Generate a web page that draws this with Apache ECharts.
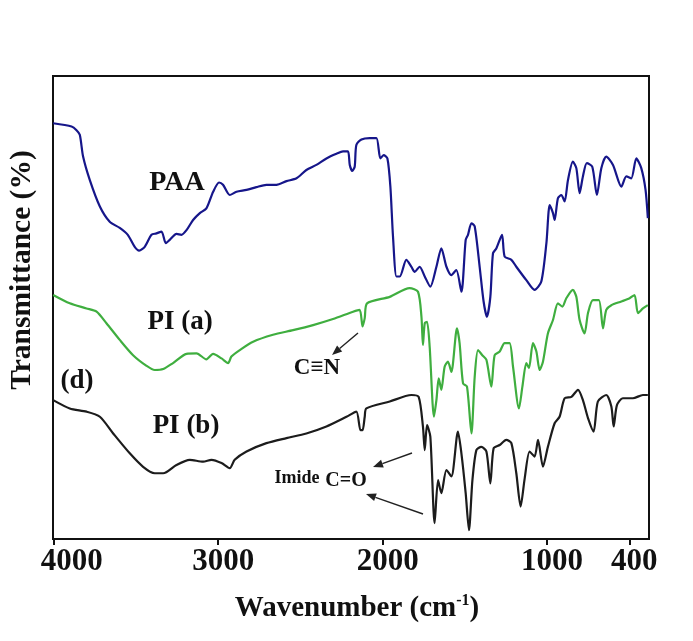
<!DOCTYPE html>
<html>
<head>
<meta charset="utf-8">
<script src="https://cdn.jsdelivr.net/npm/echarts@6/dist/echarts.min.js"></script>
<style>
  html, body { margin: 0; padding: 0; background: #ffffff; }
  #chart { width: 693px; height: 641px; }
</style>
</head>
<body>
<div id="chart"></div>
<script>
// FTIR spectra: [wavenumber (cm-1), transmittance (offset, %)]
const paaSpectrum = [
  [4004, 89.8], [3892, 89.1], [3862, 88.3], [3842, 87.3], [3822, 82.6], [3781, 77.5],
  [3720, 71.8], [3660, 68.5], [3599, 67.2], [3550, 65.7], [3508, 63.1], [3481, 62.3],
  [3447, 63.1], [3406, 65.7], [3376, 66.0], [3345, 66.4], [3319, 63.9], [3295, 64.6],
  [3254, 65.9], [3224, 65.7], [3193, 66.7], [3153, 68.9], [3112, 70.4], [3072, 71.4],
  [3031, 75.0], [2995, 77.0], [2971, 76.5], [2930, 74.3], [2889, 75.0], [2828, 75.4],
  [2768, 76.0], [2707, 76.5], [2646, 76.5], [2585, 77.3], [2524, 77.9], [2464, 79.7],
  [2403, 80.8], [2342, 82.2], [2281, 83.2], [2241, 83.7], [2211, 83.7], [2200, 80.8],
  [2185, 79.5], [2170, 80.4], [2160, 85.1], [2129, 86.3], [2079, 86.6], [2038, 86.6],
  [2014, 82.2], [1994, 82.9], [1971, 82.2], [1953, 76.1], [1937, 65.3], [1916, 56.7],
  [1896, 56.7], [1856, 60.3], [1825, 58.8], [1805, 57.7], [1775, 58.8], [1744, 56.7],
  [1710, 54.5], [1673, 58.8], [1643, 62.8], [1612, 58.8], [1582, 57.0], [1552, 58.1],
  [1521, 53.4], [1495, 64.6], [1481, 65.7], [1460, 68.2], [1440, 67.5], [1410, 58.8],
  [1386, 51.3], [1366, 48.0], [1345, 52.3], [1329, 61.7], [1308, 62.8], [1274, 65.7],
  [1258, 61.0], [1217, 60.3], [1187, 58.8], [1126, 55.9], [1076, 53.8], [1035, 55.6],
  [1004, 63.9], [984, 72.1], [964, 70.4], [954, 68.9], [934, 73.6], [913, 74.3],
  [893, 72.9], [873, 77.5], [843, 81.5], [822, 80.1], [802, 74.7], [782, 78.3],
  [758, 81.2], [725, 80.4], [697, 74.3], [670, 80.1], [640, 82.6], [599, 80.8],
  [548, 76.1], [518, 78.3], [488, 77.9], [457, 82.2], [427, 80.1], [401, 75.4], [387, 69.3]
];

const piASpectrum = [
  [4004, 52.7], [3903, 50.9], [3801, 49.8], [3740, 49.1], [3680, 46.6], [3599, 43.0],
  [3518, 39.7], [3436, 37.4], [3386, 36.5], [3335, 36.7], [3275, 38.0], [3193, 40.0],
  [3132, 40.1], [3072, 38.8], [3031, 40.0], [2980, 39.0], [2940, 38.0], [2920, 39.4],
  [2869, 40.8], [2788, 42.6], [2667, 44.1], [2545, 45.1], [2423, 46.2], [2302, 47.5],
  [2180, 49.1], [2140, 49.5], [2122, 45.9], [2109, 47.7], [2095, 50.9], [1957, 52.3],
  [1836, 54.2], [1785, 53.4], [1764, 48.0], [1755, 41.9], [1744, 46.6], [1730, 46.9],
  [1714, 41.5], [1688, 26.4], [1673, 30.0], [1659, 34.7], [1643, 32.2], [1623, 37.2],
  [1603, 38.3], [1582, 36.1], [1548, 45.5], [1532, 42.3], [1511, 33.6], [1487, 32.9],
  [1460, 22.8], [1440, 35.1], [1420, 40.8], [1394, 39.7], [1369, 38.7], [1339, 32.9],
  [1319, 39.7], [1288, 40.5], [1258, 42.3], [1228, 42.3], [1207, 37.2], [1171, 28.2],
  [1150, 32.9], [1126, 38.0], [1110, 36.9], [1086, 42.3], [1065, 40.5], [1045, 36.5],
  [1025, 38.3], [995, 44.4], [964, 47.3], [934, 50.9], [907, 50.2], [883, 52.0],
  [843, 53.8], [822, 52.3], [802, 47.3], [772, 44.4], [751, 48.8], [721, 51.6],
  [685, 51.6], [660, 45.5], [640, 49.5], [609, 50.5], [548, 51.3], [498, 52.0],
  [468, 52.7], [447, 48.8], [417, 49.8], [387, 50.5]
];

const piBSpectrum = [
  [4004, 30.0], [3903, 28.2], [3801, 27.5], [3720, 26.4], [3639, 22.8], [3538, 18.5],
  [3457, 15.6], [3386, 14.2], [3335, 14.2], [3254, 16.0], [3173, 17.1], [3092, 16.7],
  [3041, 17.1], [2980, 16.4], [2930, 15.3], [2900, 17.1], [2828, 18.9], [2707, 20.7],
  [2585, 21.8], [2464, 22.8], [2342, 24.3], [2220, 26.4], [2160, 27.5], [2135, 23.5],
  [2122, 23.5], [2109, 26.4], [2099, 28.2], [1957, 29.7], [1825, 31.1], [1781, 30.7],
  [1755, 24.3], [1744, 19.2], [1730, 24.6], [1710, 22.1], [1684, 3.4], [1663, 12.7],
  [1643, 9.9], [1612, 14.9], [1582, 13.5], [1542, 23.2], [1521, 18.5], [1495, 9.9],
  [1475, 1.9], [1454, 12.7], [1430, 19.2], [1400, 19.9], [1369, 18.9], [1345, 12.0],
  [1325, 19.6], [1288, 20.3], [1248, 21.4], [1217, 20.7], [1187, 14.2], [1161, 7.0],
  [1136, 13.1], [1106, 18.9], [1076, 17.8], [1055, 21.4], [1025, 15.6], [995, 19.9],
  [954, 25.0], [924, 26.4], [893, 30.4], [852, 30.7], [812, 32.2], [782, 30.0],
  [751, 26.1], [717, 23.2], [691, 29.7], [640, 31.1], [609, 28.6], [595, 24.3],
  [575, 28.9], [539, 30.4], [478, 30.4], [417, 31.1], [387, 31.1]
];

// Tick positions along the wavenumber axis and the text printed under them
const tickValues = [4000, 3000, 2000, 1000, 500];
const tickLabels = ['4000', '3000', '2000', '1000', '400'];

const seriesNames = ['PAA', 'PI (a)', 'PI (b)'];

const SERIF = '"Liberation Serif", "Times New Roman", serif';

const chart = echarts.init(document.getElementById('chart'), null, { renderer: 'canvas' });

// Straight annotation arrow with a filled head at (x2, y2)
function arrow(x1, y1, x2, y2) {
  const ang = Math.atan2(y2 - y1, x2 - x1);
  const L = 10, W = 4;
  const bx = x2 - L * Math.cos(ang), by = y2 - L * Math.sin(ang);
  const px = -Math.sin(ang) * W, py = Math.cos(ang) * W;
  return [
    { type: 'line', shape: { x1: x1, y1: y1, x2: bx, y2: by },
      style: { stroke: '#222', lineWidth: 1.4 } },
    { type: 'polygon', shape: { points: [[x2, y2], [bx + px, by + py], [bx - px, by - py]] },
      style: { fill: '#222' } }
  ];
}

const textStyleBase = { fontFamily: SERIF, fontWeight: 'bold', fill: '#111' };

function label(text, x, y, size) {
  return { type: 'text', x: x, y: y,
    style: Object.assign({ text: text, fontSize: size, align: 'center', verticalAlign: 'middle' }, textStyleBase) };
}

const option = {
  backgroundColor: '#ffffff',
  animation: false,
  grid: {
    left: 53, right: 44, top: 76, bottom: 102,
    show: true, borderColor: '#111', borderWidth: 2, backgroundColor: 'transparent'
  },
  xAxis: {
    type: 'value',
    min: 380, max: 4005,
    inverse: true,
    name: 'Wavenumber (cm{sup|-1})',
    nameLocation: 'middle',
    nameGap: 54,
    nameTextStyle: {
      fontFamily: SERIF, fontWeight: 'bold', fontSize: 29, color: '#111',
      padding: [0, 0, 0, 12],
      rich: {
        sup: { fontFamily: SERIF, fontWeight: 'bold', fontSize: 16, color: '#111',
               verticalAlign: 'top', padding: [0, 0, 15, 0] }
      }
    },
    axisLine: { show: true, lineStyle: { color: '#111', width: 2 } },
    axisTick: { show: true, inside: false, length: 6, customValues: tickValues,
                lineStyle: { color: '#111', width: 2 } },
    axisLabel: {
      show: true, customValues: tickValues, margin: 7,
      fontFamily: SERIF, fontWeight: 'bold', fontSize: 31, color: '#111',
      formatter: function (v) {
        const i = tickValues.indexOf(v);
        const t = i >= 0 ? tickLabels[i] : '';
        return i === 0 ? '{first|' + t + '}' : '{n|' + t + '}';
      },
      rich: {
        first: { fontFamily: SERIF, fontWeight: 'bold', fontSize: 31, color: '#111', padding: [0, 0, 0, 36] },
        n: { fontFamily: SERIF, fontWeight: 'bold', fontSize: 31, color: '#111', padding: [0, 0, 0, 10] }
      }
    },
    splitLine: { show: false }
  },
  yAxis: {
    type: 'value', min: 0, max: 100,
    axisLine: { show: false }, axisTick: { show: false },
    axisLabel: { show: false }, splitLine: { show: false }
  },
  series: [
    { name: seriesNames[0], type: 'line', data: paaSpectrum, showSymbol: false, smooth: 0.25,
      lineStyle: { color: '#16168a', width: 2.2 } },
    { name: seriesNames[1], type: 'line', data: piASpectrum, showSymbol: false, smooth: 0.25,
      lineStyle: { color: '#3fae3f', width: 2.2 } },
    { name: seriesNames[2], type: 'line', data: piBSpectrum, showSymbol: false, smooth: 0.25,
      lineStyle: { color: '#1c1c1c', width: 2.2 } }
  ],
  graphic: [
    { type: 'text', x: 22, y: 270, rotation: Math.PI / 2,
      style: Object.assign({ text: 'Transmittance (%)', fontSize: 29.5,
        align: 'center', verticalAlign: 'middle' }, textStyleBase) },
    label(seriesNames[0], 177, 183, 28),
    label(seriesNames[1], 180, 322, 27),
    label(seriesNames[2], 186, 426, 27),
    label('(d)', 77, 381, 27),
    label('C≡N', 317, 368, 23),
    label('Imide', 297, 478, 18),
    label('C=O', 346, 481, 20)
  ].concat(arrow(358, 333, 332, 355), arrow(412, 453, 373, 467), arrow(423, 514, 366, 494))
};

chart.setOption(option);
</script>
</body>
</html>
